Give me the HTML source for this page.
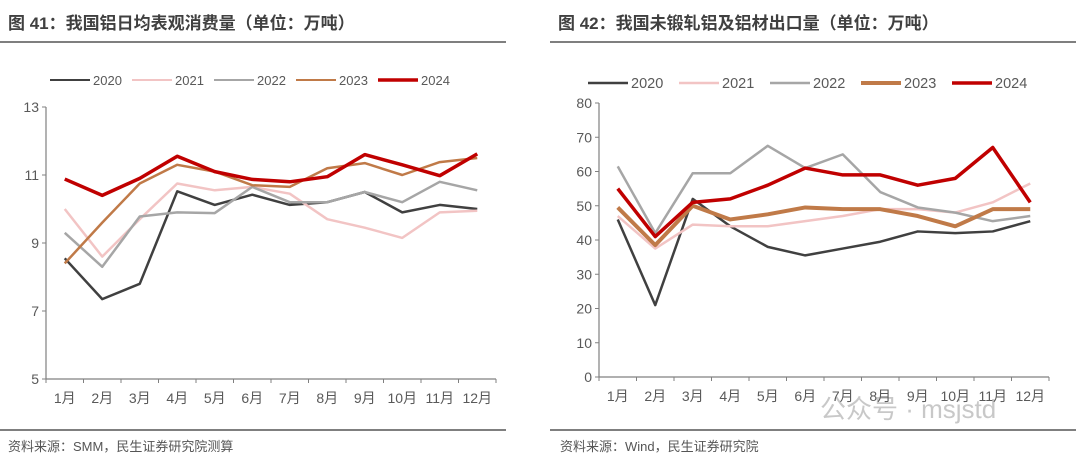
<!DOCTYPE html>
<html><head><meta charset="utf-8"><style>
body{margin:0;background:#fff;width:1080px;height:458px;overflow:hidden;font-family:"Liberation Sans","Noto Sans CJK SC",sans-serif}
svg text{font-family:"Liberation Sans","Noto Sans CJK SC",sans-serif}
</style></head><body>
<svg width="1080" height="458">
<text x="8" y="29" font-size="17" font-weight="bold" fill="#404040">图 41：我国铝日均表观消费量（单位：万吨）</text>
<line x1="0" y1="42" x2="506" y2="42" stroke="#555" stroke-width="1.5"/>
<text x="558" y="29" font-size="17" font-weight="bold" fill="#404040">图 42：我国未锻轧铝及铝材出口量（单位：万吨）</text>
<line x1="550" y1="42" x2="1076" y2="42" stroke="#555" stroke-width="1.5"/>
<line x1="0" y1="430" x2="506" y2="430" stroke="#555" stroke-width="1.5"/>
<line x1="550" y1="430" x2="1076" y2="430" stroke="#555" stroke-width="1.5"/>
<text x="8" y="451" font-size="13" fill="#555">资料来源：SMM，民生证券研究院测算</text>
<text x="560" y="451" font-size="13" fill="#555">资料来源：Wind，民生证券研究院</text>
<text x="820" y="418" font-size="26" fill="#bbb" opacity="0.8">公众号 · msjstd</text>
<g id="left"></g><g id="right"></g>
</svg>
<script>
const months=["1月","2月","3月","4月","5月","6月","7月","8月","9月","10月","11月","12月"];
const years=["2020","2021","2022","2023","2024"];
const leftTicks=[5,7,9,11,13];
const left2020=[8.55,7.35,7.8,10.52,10.12,10.42,10.12,10.2,10.5,9.9,10.12,10.0];
const left2021=[10.0,8.6,9.7,10.75,10.55,10.65,10.45,9.7,9.45,9.15,9.9,9.95];
const left2022=[9.3,8.3,9.78,9.9,9.88,10.65,10.2,10.2,10.5,10.2,10.8,10.55];
const left2023=[8.4,9.6,10.75,11.3,11.1,10.7,10.65,11.2,11.35,11.0,11.38,11.5];
const left2024=[10.88,10.4,10.9,11.55,11.1,10.87,10.8,10.95,11.6,11.3,10.98,11.62];
const rightTicks=[0,10,20,30,40,50,60,70,80];
const right2020=[46,21,52,44,38,35.5,37.5,39.5,42.5,42,42.5,45.5];
const right2021=[47,37.5,44.5,44,44,45.5,47,49,49,48,51,56.5];
const right2022=[61.5,42,59.5,59.5,67.5,61,65,54,49.5,48,45.5,47];
const right2023=[49.5,38.5,50,46,47.5,49.5,49,49,47,44,49,49];
const right2024=[55,41,51,52,56,61,59,59,56,58,67,51];
const colors=["#404040","#f2c4c4","#a6a6a6","#c07a48","#c00000"];
const NS="http://www.w3.org/2000/svg";
function mk(g,tag,attrs){const e=document.createElementNS(NS,tag);for(const k in attrs)e.setAttribute(k,attrs[k]);g.appendChild(e);return e;}
function draw(gid,side,x0,x1,yTop,yBot,ticks,series,widths,legX,legGap,legY,legFs,legLw){
  const g=document.getElementById(gid);
  const min=ticks[0],max=ticks[ticks.length-1];
  const band=(x1-x0)/months.length;
  const xs=i=>x0+band*(i+0.5);
  const ys=v=>yBot-(v-min)/(max-min)*(yBot-yTop);
  const ax=mk(g,"path",{d:`M${x0},${yTop} L${x0},${yBot} L${x1},${yBot}`,fill:"none",stroke:"#808080","stroke-width":1.2});
  
  
  ticks.forEach(t=>{
    const tk=mk(g,"line",{x1:x0-4,x2:x0,y1:ys(t),y2:ys(t),stroke:"#808080"});
    
    
    const tl=mk(g,"text",{x:x0-7,y:ys(t)+5,"text-anchor":"end","font-size":14,fill:"#595959"});
    tl.textContent=t;
    
    
  });
  for(let i=0;i<=months.length;i++){
    const tk=mk(g,"line",{x1:x0+band*i,x2:x0+band*i,y1:yBot,y2:yBot+4,stroke:"#808080"});
    
    
  }
  months.forEach((m,i)=>{
    const t=mk(g,"text",{x:xs(i),y:yBot+24,"text-anchor":"middle","font-size":14,fill:"#595959"});
    t.textContent=m;
    
    
  });
  series.forEach((s,k)=>{
    const p=mk(g,"polyline",{points:s.map((v,i)=>xs(i)+","+ys(v)).join(" "),fill:"none",stroke:colors[k],"stroke-width":widths[k],"stroke-linejoin":"round"});
    
    
  });
  years.forEach((y,k)=>{
    const lx=legX+legGap*k;
    const l=mk(g,"line",{x1:lx,x2:lx+40,y1:legY,y2:legY,stroke:colors[k],"stroke-width":legLw[k]});
    
    
    const t=mk(g,"text",{x:lx+43,y:legY+5,"font-size":legFs,fill:"#595959"});
    t.textContent=y;
    
    
  });
}
draw("left","left",46,496,107,379,leftTicks,[left2020,left2021,left2022,left2023,left2024],[2.5,2.5,2.5,2.5,3.5],50,82,80,13,[2,2,2,2,3.5]);
draw("right","right",599,1049,103,377,rightTicks,[right2020,right2021,right2022,right2023,right2024],[2.5,2.5,2.5,4,3.5],588,91,83,14.5,[2.5,2.5,2.5,4,3.5]);
</script>
</body></html>
